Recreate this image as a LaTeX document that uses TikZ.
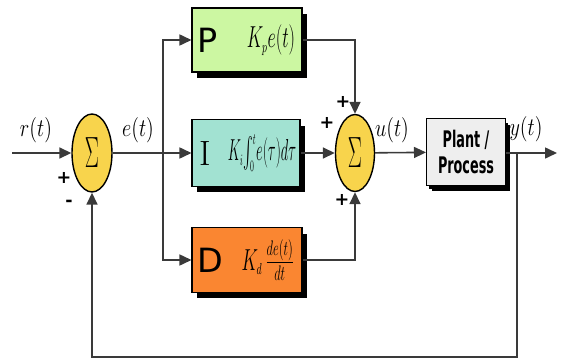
\documentclass[tikz,border=0pt]{standalone}
\usepackage{fontspec}
\usepackage{amsmath}
\usepackage{graphicx}
\usetikzlibrary{arrows.meta,positioning,shapes.geometric,shadows}
\newfontfamily\blocksf{DejaVu Sans}
\definecolor{pgreen}{HTML}{CCF7A2}
\definecolor{iteal}{HTML}{A2E2D2}
\definecolor{dorange}{HTML}{FA8631}
\definecolor{sumyellow}{HTML}{F8D44C}
\definecolor{plantgray}{HTML}{EEEEEE}
\definecolor{wiregray}{HTML}{3A3A3A}
\newcommand{\narrow}[2]{\scalebox{#1}[1]{#2}}
\newcommand{\sumsign}{\narrow{0.48}{\fontsize{37}{37}\selectfont$\Sigma$}}

\begin{document}
\begin{tikzpicture}[
		x = 0.02cm, y = -0.02cm,
		block/.style = {rectangle, draw = black, line width = 0.6pt, inner sep = 0pt,
			drop shadow = {shadow xshift = 0.1cm, shadow yshift = -0.12cm, fill = black, opacity = 1}},
		summer/.style = {ellipse, draw = black, line width = 0.8pt, fill = sumyellow, inner sep = 0pt,
			minimum width = 0.8cm, minimum height = 1.56cm},
		wire/.style = {draw = wiregray, line width = 0.9pt},
		sig/.style = {wire, -{Triangle[length = 2.4mm, width = 2.2mm]}},
		sigtext/.style = {inner sep = 0pt, font = \fontsize{13.5}{14}\selectfont},
		sign/.style = {inner sep = 0pt, font = \blocksf\bfseries\fontsize{10}{10}\selectfont},
		letter/.style = {inner sep = 0pt, font = \blocksf\fontsize{19}{19}\selectfont},
		formula/.style = {inner sep = 0pt, font = \fontsize{18}{18}\selectfont}
		]
\useasboundingbox (0,0) rectangle (562,362);

% summing junctions and blocks
\node[summer] (sumA) at (92,153) {\sumsign};
\node[block, fill = pgreen, minimum width = 2.2cm, minimum height = 1.28cm] (boxP) at (247,40) {};
\node[block, fill = iteal, minimum width = 2.16cm, minimum height = 1.34cm] (boxI) at (246,153) {};
\node[block, fill = dorange, minimum width = 2.2cm, minimum height = 1.3cm] (boxD) at (247,260) {};
\node[summer, minimum width = 0.78cm, minimum height = 1.54cm] (sumB) at (355,153) {\sumsign};
\node[block, fill = plantgray, minimum width = 1.58cm, minimum height = 1.34cm,
	drop shadow = {shadow xshift = 0.05cm, shadow yshift = -0.08cm, fill = black, opacity = 1}] (plant) at (466,152) {};
\node[inner sep = 0pt, align = center, font = \blocksf\bfseries\fontsize{13}{15}\selectfont] (plantname) at (plant)
	{\narrow{0.56}{Plant /}\\\narrow{0.56}{Process}};

% block contents
\node[letter, right = 0.12cm of boxP.west] (letP) {P};
\node[formula, left = 0.14cm of boxP.east] (gainP) {\narrow{0.6}{$K_{\scriptscriptstyle p}e(t)$}};
\node[letter, font = \rmfamily\fontsize{20}{20}\selectfont, right = 0.16cm of boxI.west] (letI) {I};
\node[formula, left = 0.08cm of boxI.east] (gainI)
	{\narrow{0.48}{$K_{\scriptscriptstyle i}\!\int_{\scriptscriptstyle 0}^{\scriptscriptstyle t}\! e(\tau)d\tau$}};
\node[letter, right = 0.12cm of boxD.west] (letD) {D};
\node[formula, left = 0.16cm of boxD.east] (gainD)
	{\narrow{0.6}{$K_{\scriptscriptstyle d}\,\frac{de(t)}{dt}$}};

% free ends and corners
\coordinate (in) at (12,153);
\coordinate (split) at (163,153);
\coordinate (tap) at (517,153);
\coordinate (out) at (557,153);
\coordinate (tapdown) at (517,357);

% connectors
\draw[sig] (in) -- (sumA);
\draw[wire] (sumA) -- (split);
\draw[sig] (split) |- (boxP);
\draw[sig] (split) -- (boxI);
\draw[sig] (split) |- (boxD);
\draw[sig] (boxP) -| (sumB);
\draw[sig] (boxI) -- (sumB);
\draw[sig] (boxD) -| (sumB);
\draw[sig] (sumB) -- (plant);
\draw[sig] (plant.east |- tap) -- (out);
\draw[sig] (tap) -- (tapdown) -| (sumA);

% signal names
\node[sigtext] (rt) at (36,130) {\narrow{0.8}{$r(t)$}};
\node[sigtext] (et) at (138,130) {\narrow{0.8}{$e(t)$}};
\node[sigtext] (ut) at (392,130) {\narrow{0.8}{$u(t)$}};
\node[sigtext] (yt) at (526,129) {\narrow{0.8}{$y(t)$}};

% signs
\node[sign] (plusA) at (64,178) {+};
\node[sign] (minusA) at (69,203) {-};
\node[sign] (plusB1) at (343,102) {+};
\node[sign] (plusB2) at (327,123) {+};
\node[sign] (plusB3) at (342,200) {+};

\end{tikzpicture}
\end{document}
